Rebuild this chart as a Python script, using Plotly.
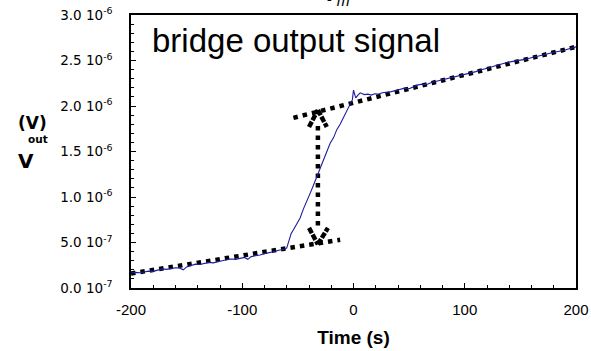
import plotly.graph_objects as go

# ---- data (time in s, signal in microvolts) ----
time_s = [-200, -196, -192, -188, -184, -180, -176, -172, -168, -164, -160, -156, -153, -150,
          -146, -142, -138, -134, -130, -126, -122, -118, -114, -110, -106, -102, -98, -95,
          -92, -88, -84, -80, -76, -72, -68, -64, -61, -60, -58, -56, -54, -51, -48, -45,
          -42, -39, -36, -33, -30, -27, -24, -21, -18, -15, -12, -9, -6, -3, -1, 0, 1, 2,
          4, 6, 8, 10, 13, 16, 19, 22, 26, 30, 34, 38, 42, 46, 50, 54, 58, 62, 66, 70, 74,
          78, 82, 86, 90, 94, 98, 102, 106, 110, 114, 118, 122, 126, 130, 134, 138, 142,
          146, 150, 154, 158, 162, 166, 170, 174, 178, 182, 186, 190, 194, 198, 200]
v_out_uV = [0.165, 0.172, 0.168, 0.180, 0.185, 0.183, 0.195, 0.210, 0.205, 0.215, 0.222, 0.218, 0.200, 0.232,
            0.245, 0.262, 0.258, 0.270, 0.281, 0.276, 0.292, 0.300, 0.310, 0.318, 0.315, 0.328, 0.336, 0.315,
            0.345, 0.355, 0.362, 0.378, 0.385, 0.398, 0.412, 0.420, 0.432, 0.440, 0.520, 0.600, 0.640, 0.700, 0.770, 0.870,
            0.950, 1.040, 1.130, 1.220, 1.310, 1.410, 1.510, 1.590, 1.650, 1.740, 1.800, 1.870, 1.950, 2.020, 2.070, 2.175, 2.130, 2.090,
            2.120, 2.145, 2.135, 2.125, 2.130, 2.120, 2.135, 2.130, 2.145, 2.150, 2.158, 2.170, 2.180, 2.196, 2.190, 2.215, 2.232, 2.240, 2.236, 2.258, 2.270,
            2.285, 2.290, 2.308, 2.322, 2.330, 2.345, 2.355, 2.368, 2.378, 2.395, 2.404, 2.420, 2.436, 2.452, 2.465, 2.478, 2.488,
            2.495, 2.503, 2.512, 2.525, 2.535, 2.546, 2.560, 2.572, 2.585, 2.592, 2.605, 2.615, 2.628, 2.640, 2.650]

# fitted baselines (dotted)
fit_low_t = [-200, -12]
fit_low_v = [0.16, 0.53]
fit_high_t = [-54, 200]
fit_high_v = [1.87, 2.65]

# double arrow (step height)
arrow_t = [-32, -32]
arrow_v = [1.78, 0.64]
head_top_t = [-40, -32, None, -32, -24]
head_top_v = [1.77, 1.956, None, 1.956, 1.77]
head_bot_t = [-40, -32, None, -32, -23]
head_bot_v = [0.66, 0.48, None, 0.48, 0.66]

y_tickvals = [0, 0.5, 1.0, 1.5, 2.0, 2.5, 3.0]
y_ticktext = ["0.0 10<sup>-7</sup>", "5.0 10<sup>-7</sup>", "1.0 10<sup>-6</sup>", "1.5 10<sup>-6</sup>",
              "2.0 10<sup>-6</sup>", "2.5 10<sup>-6</sup>", "3.0 10<sup>-6</sup>"]
x_tickvals = [-200, -100, 0, 100, 200]

FONT = "Liberation Sans, Arial, sans-serif"
WIDE = "DejaVu Sans, sans-serif"
dotline = dict(color="black", width=4.5, dash="4.5px,5px")
headline = dict(color="black", width=4.5, dash="6px,1.5px")

fig = go.Figure()
fig.add_trace(go.Scatter(x=fit_low_t, y=fit_low_v, mode="lines", line=dotline, hoverinfo="skip"))
fig.add_trace(go.Scatter(x=fit_high_t, y=fit_high_v, mode="lines", line=dotline, hoverinfo="skip"))
fig.add_trace(go.Scatter(x=arrow_t, y=arrow_v, mode="lines", line=dotline, hoverinfo="skip"))
fig.add_trace(go.Scatter(x=head_top_t, y=head_top_v, mode="lines", line=headline, hoverinfo="skip"))
fig.add_trace(go.Scatter(x=head_bot_t, y=head_bot_v, mode="lines", line=headline, hoverinfo="skip"))
fig.add_trace(go.Scatter(x=time_s, y=v_out_uV, mode="lines",
                         line=dict(color="#1c1c9c", width=1.1)))

fig.update_layout(
    width=591, height=351,
    margin=dict(l=131, r=15, t=15, b=63),
    paper_bgcolor="white", plot_bgcolor="white",
    showlegend=False,
    font=dict(family=FONT, color="black"),
)
fig.update_xaxes(
    automargin=False,
    range=[-200, 200], tickvals=x_tickvals, ticktext=[str(v) for v in x_tickvals],
    showgrid=False, zeroline=False, showline=True, mirror=True,
    linecolor="black", linewidth=1.5,
    ticks="inside", ticklen=5, tickwidth=1, tickcolor="black",
    minor=dict(dtick=20, ticks="inside", ticklen=3, tickwidth=1, tickcolor="black", showgrid=False),
    tickfont=dict(size=15, family=FONT, color="black"),
    ticklabelstandoff=7,
    title=dict(text="<b>Time (s)</b>", font=dict(size=19, family=FONT, color="black"), standoff=14),
)
fig.update_yaxes(
    automargin=False,
    range=[0, 3.0], tickvals=y_tickvals, ticktext=y_ticktext,
    showgrid=False, zeroline=False, showline=True, mirror=True,
    linecolor="black", linewidth=1.5,
    ticks="inside", ticklen=5, tickwidth=1, tickcolor="black",
    minor=dict(dtick=0.1, ticks="inside", ticklen=3, tickwidth=1, tickcolor="black", showgrid=False),
    tickfont=dict(size=13.5, family=WIDE, color="black"),
    ticklabelstandoff=14,
)

fig.add_annotation(text="bridge output signal", xref="paper", yref="paper",
                   x=(150 - 131) / 445, y=(288 - 40) / 273, xanchor="left", yanchor="middle",
                   showarrow=False, font=dict(size=33, family=FONT, color="black"))
# y-axis label pieces
fig.add_annotation(text="<b>(V)</b>", xref="paper", yref="paper", x=-(131 - 32.5) / 445, y=(288 - 123) / 273,
                   xanchor="center", yanchor="middle", showarrow=False, font=dict(size=17, family=WIDE))
fig.add_annotation(text="<b>out</b>", xref="paper", yref="paper", x=-(131 - 37.5) / 445, y=(288 - 139) / 273,
                   xanchor="center", yanchor="middle", showarrow=False, font=dict(size=10.5, family=WIDE))
fig.add_annotation(text="<b>V</b>", xref="paper", yref="paper", x=-(131 - 25.5) / 445, y=(288 - 160.5) / 273,
                   xanchor="center", yanchor="middle", showarrow=False, font=dict(size=20, family=WIDE))
# clipped heading at the very top
fig.add_annotation(text="<b>V</b><sub><i>m</i></sub>", xref="paper", yref="paper",
                   x=(336 - 131) / 445, y=(288 - 11) / 273, xanchor="center", yanchor="bottom",
                   showarrow=False, font=dict(size=22, family=FONT, color="black"))

fig.write_html("out.html")
